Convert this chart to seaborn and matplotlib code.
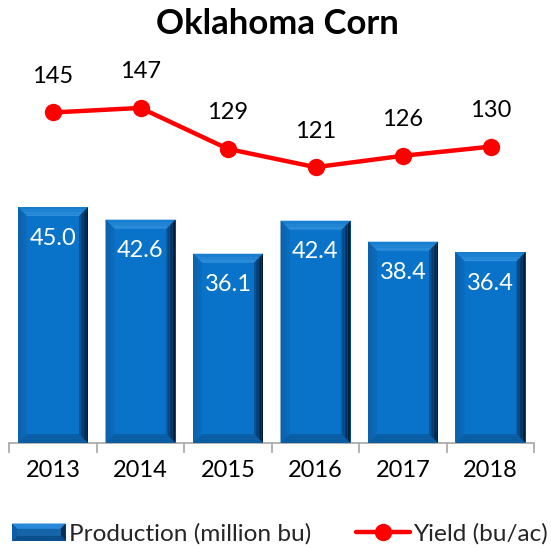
import matplotlib
matplotlib.use("Agg")
import matplotlib.pyplot as plt
import seaborn as sns
import pandas as pd
import numpy as np
from matplotlib.patches import Polygon
from matplotlib.lines import Line2D
from matplotlib.legend_handler import HandlerBase

years = ["2013", "2014", "2015", "2016", "2017", "2018"]
production = [45.0, 42.6, 36.1, 42.4, 38.4, 36.4]
yield_vals = [145, 147, 129, 121, 126, 130]

sns.set_theme(style="white")
plt.rcParams['font.family'] = ['Lato', 'DejaVu Sans']

df = pd.DataFrame({"Year": years, "Production": production, "Yield": yield_vals})

W, H = 551, 548
ax_l, ax_r, ax_b, ax_t = 9.25, 534.25, 443, 76
fig = plt.figure(figsize=(W / 100, H / 100), dpi=100)
ax = fig.add_axes([ax_l / W, 1 - ax_b / H, (ax_r - ax_l) / W, (ax_b - ax_t) / H])

face = "#0873C8"
sns.barplot(data=df, x="Year", y="Production", color=face, width=0.8,
            saturation=1, ax=ax, edgecolor="none", zorder=2)
ymax1 = 70
ax.set_ylim(0, ymax1)
ax.set_xlim(-0.5, 5.5)

px_x = (ax_r - ax_l) / 6.0
px_y = (ax_b - ax_t) / ymax1
bw = 9
dx = bw / px_x
dy = bw / px_y
steps = 6


def lerp(c1, c2, t):
    c1 = np.array(matplotlib.colors.to_rgb(c1)); c2 = np.array(matplotlib.colors.to_rgb(c2))
    return tuple(c1 + (c2 - c1) * t)


for p in list(ax.patches):
    x0 = p.get_x(); w = p.get_width(); h = p.get_height()
    x1 = x0 + w
    for i in range(steps):
        t0, t1 = i / steps, (i + 1) / steps
        poly = [(x0 + dx * t0, h - dy * t0), (x1 - dx * t0, h - dy * t0),
                (x1 - dx * t1, h - dy * t1), (x0 + dx * t1, h - dy * t1)]
        ax.add_patch(Polygon(poly, closed=True, facecolor=lerp("#1A7ECF", "#3494DF", t0),
                             edgecolor="none", zorder=3))
        poly = [(x0 + dx * t0, dy * t0), (x1 - dx * t0, dy * t0),
                (x1 - dx * t1, dy * t1), (x0 + dx * t1, dy * t1)]
        ax.add_patch(Polygon(poly, closed=True, facecolor=lerp("#0B5A9C", "#0A5FA8", t0),
                             edgecolor="none", zorder=3))
        poly = [(x0 + dx * t0, dy * t0), (x0 + dx * t0, h - dy * t0),
                (x0 + dx * t1, h - dy * t1), (x0 + dx * t1, dy * t1)]
        ax.add_patch(Polygon(poly, closed=True, facecolor=lerp("#0C60A8", "#0A6DBE", t0),
                             edgecolor="none", zorder=3))
        poly = [(x1 - dx * t0, dy * t0), (x1 - dx * t0, h - dy * t0),
                (x1 - dx * t1, h - dy * t1), (x1 - dx * t1, dy * t1)]
        ax.add_patch(Polygon(poly, closed=True, facecolor=lerp("#021A33", "#0A5DA3", t0),
                             edgecolor="none", zorder=3))
    ax.text(x0 + w / 2, h - 5.9, f"{h:.1f}", ha="center", va="center",
            color="white", fontsize=17, zorder=5)

ax2 = ax.twinx()
sns.lineplot(data=df, x="Year", y="Yield", color="#FF0000", linewidth=3.2,
             marker="o", markersize=12.5, markeredgewidth=0, ax=ax2, zorder=4)
ymax2 = 161
ax2.set_ylim(0, ymax2)
for i, v in enumerate(yield_vals):
    ax2.text(i, v + 15.8, f"{v}", ha="center", va="center", color="black", fontsize=17)

for a in (ax, ax2):
    for s in ["top", "right", "left"]:
        a.spines[s].set_visible(False)
    a.set_ylabel("")
    a.set_yticks([])
ax2.spines["bottom"].set_visible(False)
ax.spines["bottom"].set_color("#A6A6A6")
ax.spines["bottom"].set_linewidth(1.2)
ax.set_xlabel("")
ax.set_xticks(np.arange(-0.5, 6, 1), minor=True)
ax.tick_params(axis="x", which="minor", length=7, width=1.2, color="#A6A6A6", bottom=True)
ax.tick_params(axis="x", which="major", length=0, labelsize=17, pad=12, labelcolor="black")
ax.set_xticks(range(6))
ax.set_xticklabels(years)
ax2.set_xlabel("")

fig.text(277 / W, 1 - 24 / H, "Oklahoma Corn", ha="center", va="center",
         fontsize=25, fontweight="bold", color="black")


class BevelHandler(HandlerBase):
    def create_artists(self, legend, orig, xd, yd, width, height, fontsize, trans):
        xd, yd = -xd, -yd
        b = height * 0.3
        arts = []
        def P(pts, c):
            arts.append(Polygon(pts, closed=True, facecolor=c, edgecolor="none", transform=trans))
        P([(xd, yd), (xd + width, yd), (xd + width, yd + height), (xd, yd + height)], face)
        P([(xd, yd + height), (xd + width, yd + height), (xd + width - b, yd + height - b), (xd + b, yd + height - b)], "#2A8ADA")
        P([(xd + width, yd), (xd + width, yd + height), (xd + width - b, yd + height - b), (xd + width - b, yd + b)], "#062E58")
        P([(xd, yd), (xd + width, yd), (xd + width - b, yd + b), (xd + b, yd + b)], "#0A4F8E")
        P([(xd, yd), (xd, yd + height), (xd + b, yd + height - b), (xd + b, yd + b)], "#0C5FA6")
        P([(xd + b, yd + b), (xd + width - b, yd + b), (xd + width - b, yd + height - b), (xd + b, yd + height - b)], "#1564A6")
        return arts


bar_handle = Polygon([(0, 0)], closed=True)
line_handle = Line2D([], [], color="#FF0000", linewidth=3.2, marker="o", markersize=12.5, markeredgewidth=0)
fig.legend([bar_handle, line_handle], ["Production (million bu)", "Yield (bu/ac)"],
           handler_map={Polygon: BevelHandler()},
           loc="center left", bbox_to_anchor=(12 / W, 1 - 534 / H), ncol=2, frameon=False,
           borderpad=0, borderaxespad=0,
           fontsize=17.6, handlelength=2.2, handleheight=0.72, handletextpad=0.12, columnspacing=1.85)

fig.savefig("out.png", dpi=100)
